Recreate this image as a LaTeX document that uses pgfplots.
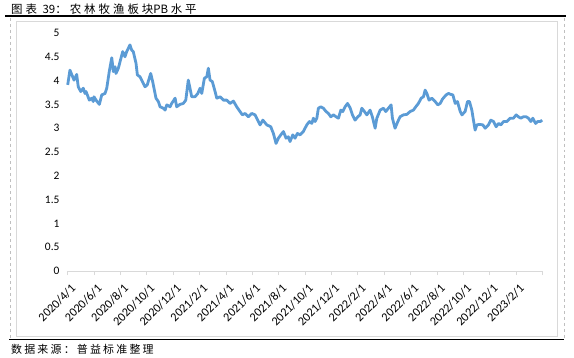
\documentclass[border=0pt]{standalone}
\usepackage{fontspec}
\usepackage{pgfplots}
\pgfplotsset{compat=1.18}
\setmainfont{Carlito}
\newfontfamily\cjktitle[LetterSpace=26]{Noto Sans CJK SC}
\newfontfamily\cjkplain{Noto Sans CJK SC}
\newfontfamily\cjksrc[LetterSpace=20]{Noto Sans CJK SC}
\definecolor{lineblue}{HTML}{5B9BD5}
\definecolor{framegray}{HTML}{D9D9D9}
\definecolor{dashgray}{HTML}{BFBFBF}
\begin{document}
\begin{tikzpicture}
\useasboundingbox (0,0) rectangle (574bp,-358bp);
% frames
\draw[dashgray, dashed, line width=0.8bp] (10bp,-18bp) -- (10bp,-338bp);
\draw[dashgray, dashed, line width=0.8bp] (564.3bp,-18bp) -- (564.3bp,-338bp);
\draw[framegray, line width=1bp] (16bp,-21bp) rectangle (557.7bp,-336bp);
\draw[black, line width=1.4bp] (5bp,-16bp) -- (566bp,-16bp);
\draw[black, line width=1.4bp] (9bp,-339.3bp) -- (564bp,-339.3bp);
\node[anchor=west, inner sep=0pt] at (11bp,-9.5bp) {\fontsize{11.5}{13}\selectfont\cjktitle 图表 \cjkplain 39\cjktitle ：农林牧渔板块\cjkplain PB \cjktitle 水平};
\node[anchor=west, inner sep=0pt] at (11bp,-349bp) {\cjksrc\fontsize{11}{13}\selectfont 数据来源：普益标准整理};
\begin{axis}[
  at={(67.7bp,-271bp)}, anchor=south west,
  scale only axis, width=475bp, height=238bp,
  xmin=0, xmax=36, ymin=0, ymax=5,
  axis lines*=left,
  clip=false,
  x axis line style={framegray, line width=1bp},
  y axis line style={draw=none},
  xtick={0,2,...,36},
  xticklabels={2020/4/1,2020/6/1,2020/8/1,2020/10/1,2020/12/1,2021/2/1,2021/4/1,2021/6/1,2021/8/1,2021/10/1,2021/12/1,2022/2/1,2022/4/1,2022/6/1,2022/8/1,2022/10/1,2022/12/1,2023/2/1,{}},
  ytick={0,0.5,...,5},
  yticklabels={0,0.5,1,1.5,2,2.5,3,3.5,4,4.5,5},
  tick align=outside,
  major tick length=4bp,
  xtick style={framegray, line width=1bp},
  ytick style={draw=none},
  xticklabel style={font=\fontsize{12.3}{14}\selectfont, inner sep=0pt, xshift=2.5bp, yshift=-8bp, rotate=45, anchor=north east},
  yticklabel style={font=\fontsize{11.5}{13}\selectfont, inner sep=0pt, anchor=east, xshift=-4bp},
]
\addplot[lineblue, line width=2.8bp, line join=round] table {
m v
0.00 3.91
0.17 4.22
0.48 4.01
0.68 4.13
0.80 3.87
0.99 3.77
1.18 3.84
1.31 3.73
1.39 3.77
1.64 3.59
1.82 3.63
1.94 3.56
1.99 3.66
2.20 3.57
2.40 3.50
2.58 3.70
2.83 3.73
2.96 3.84
3.15 4.19
3.34 4.48
3.46 4.19
3.59 4.29
3.66 4.15
3.84 4.26
3.97 4.40
4.17 4.61
4.34 4.50
4.47 4.61
4.72 4.75
4.85 4.64
4.97 4.61
5.18 4.36
5.28 4.12
5.48 4.08
5.61 4.01
5.86 3.87
6.03 3.91
6.29 4.15
6.44 3.98
6.69 3.63
6.87 3.56
7.00 3.45
7.25 3.42
7.38 3.38
7.51 3.49
7.76 3.45
7.88 3.52
8.14 3.63
8.26 3.45
8.51 3.50
8.76 3.52
8.95 3.59
9.14 4.01
9.27 3.84
9.40 3.66
9.65 3.66
9.86 3.73
10.03 3.84
10.16 3.73
10.36 4.05
10.54 4.08
10.66 4.26
10.79 4.01
10.96 3.98
11.17 3.77
11.30 3.63
11.55 3.66
11.80 3.59
12.05 3.59
12.30 3.52
12.56 3.57
12.81 3.45
13.06 3.35
13.24 3.28
13.44 3.31
13.69 3.24
13.95 3.31
14.20 3.28
14.33 3.21
14.58 3.07
14.79 3.17
14.88 3.14
15.09 3.07
15.39 3.03
15.59 2.89
15.79 2.68
15.97 2.79
16.15 2.86
16.35 2.93
16.55 2.79
16.72 2.82
16.85 2.72
17.06 2.86
17.23 2.79
17.41 2.89
17.61 2.86
17.86 2.93
18.12 3.07
18.32 3.14
18.50 3.10
18.62 3.21
18.75 3.14
18.88 3.21
19.00 3.42
19.18 3.45
19.38 3.42
19.58 3.35
19.76 3.31
19.94 3.24
20.14 3.28
20.34 3.24
20.52 3.21
20.70 3.38
20.85 3.35
21.02 3.45
21.21 3.52
21.40 3.43
21.58 3.28
21.78 3.17
21.99 3.24
22.16 3.28
22.29 3.42
22.49 3.35
22.67 3.28
22.92 3.38
23.09 3.24
23.30 3.00
23.43 3.21
23.68 3.38
23.93 3.42
24.11 3.35
24.31 3.42
24.51 3.49
24.61 3.21
24.81 3.00
25.02 3.14
25.19 3.24
25.44 3.28
25.70 3.29
25.95 3.35
26.20 3.38
26.38 3.45
26.58 3.52
26.79 3.63
26.96 3.66
27.09 3.80
27.22 3.73
27.39 3.59
27.60 3.63
27.85 3.56
28.05 3.49
28.23 3.52
28.40 3.61
28.68 3.70
28.86 3.73
29.04 3.71
29.19 3.70
29.37 3.52
29.54 3.56
29.75 3.35
29.88 3.28
30.12 3.35
30.30 3.56
30.45 3.56
30.63 3.38
30.75 3.17
30.88 2.96
31.01 3.07
31.21 3.08
31.46 3.07
31.64 3.00
31.89 3.07
32.07 3.17
32.27 3.14
32.47 3.03
32.65 3.10
32.83 3.07
33.03 3.14
33.28 3.14
33.53 3.21
33.78 3.21
33.99 3.28
34.16 3.24
34.34 3.21
34.54 3.24
34.75 3.24
34.92 3.21
35.10 3.14
35.25 3.21
35.46 3.10
35.62 3.14
35.83 3.14
35.96 3.17
};
\end{axis}
\end{tikzpicture}
\end{document}
